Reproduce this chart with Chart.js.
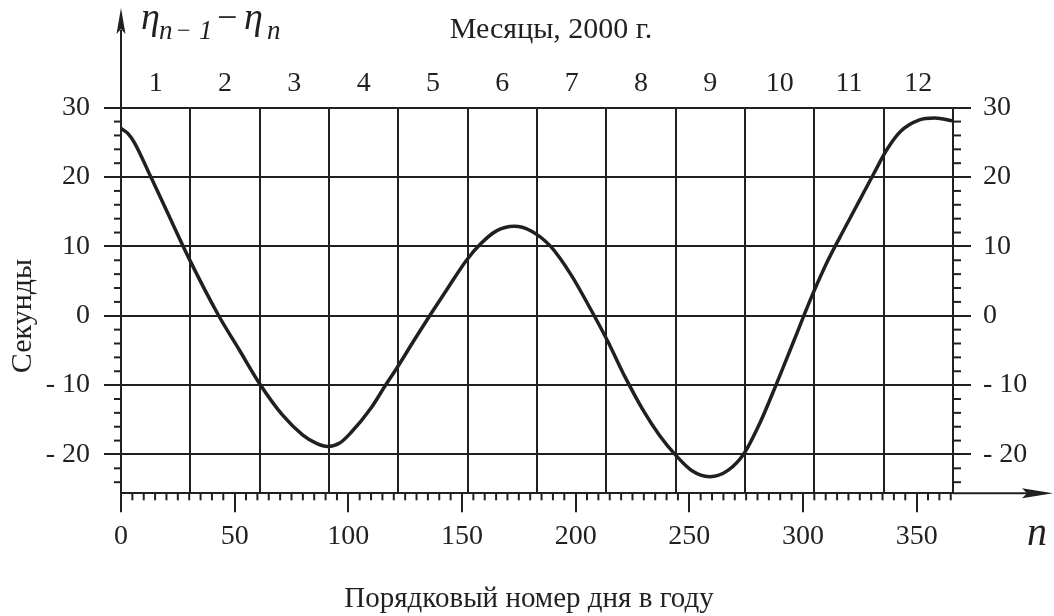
<!DOCTYPE html>
<html><head><meta charset="utf-8">
<script src="https://cdn.jsdelivr.net/npm/chart.js@4/dist/chart.umd.min.js"></script>
<style>html,body{margin:0;padding:0;background:#fff}#wrap{width:1054px;height:616px;position:relative}</style>
</head><body><div id="wrap"><canvas id="c" width="1054" height="616"></canvas></div>
<script>
// ---- data ----
const days = [0, 3, 6, 13, 19, 30, 43, 52, 61, 71, 80, 86, 91, 96, 101, 110, 116, 122, 129, 136, 143, 152, 158, 165, 173, 180, 189, 198, 206, 214, 222, 230, 237, 244, 251, 259, 267, 274, 281, 288, 296, 304, 311, 318, 325, 331, 337, 343, 351, 358, 366];
const secondsValues = [27.0, 26.3, 24.9, 20.1, 15.9, 8.2, 0.0, -4.9, -9.8, -14.3, -17.2, -18.4, -18.85, -18.4, -16.9, -13.3, -10.2, -7.2, -3.5, 0.1, 3.6, 8.0, 10.3, 12.2, 12.9, 12.3, 10.0, 5.9, 1.3, -3.6, -9.0, -13.8, -17.3, -20.1, -22.3, -23.2, -22.3, -19.9, -15.5, -10.1, -3.6, 2.9, 8.0, 12.4, 16.7, 20.4, 24.0, 26.6, 28.2, 28.5, 28.1];
const months = ['1','2','3','4','5','6','7','8','9','10','11','12'];
const xTickValues = [0, 50, 100, 150, 200, 250, 300, 350];
const yTickValues = [-20, -10, 0, 10, 20, 30];
const xRange = [0, 366];
const yRange = [-25.6, 30];
const titleText = 'Месяцы, 2000 г.';
const yTitleText = 'Секунды';
const xTitleText = 'Порядковый номер дня в году';

const INK = '#231f20';
const SERIF = "'Liberation Serif', 'Times New Roman', serif";
Chart.defaults.font.family = SERIF;
Chart.defaults.color = INK;

const fmtY = v => v < 0 ? '- ' + Math.abs(v) : String(v);

function line(ctx, x1, y1, x2, y2) { ctx.beginPath(); ctx.moveTo(x1, y1); ctx.lineTo(x2, y2); ctx.stroke(); }

const decor = {
  id: 'decor',
  afterDraw(chart) {
    const ctx = chart.ctx;
    const { x, y } = chart.scales;
    const ca = chart.chartArea;
    ctx.save();
    ctx.strokeStyle = INK; ctx.fillStyle = INK; ctx.lineWidth = 2;
    // minor ticks on y axes
    for (let v = Math.ceil(yRange[0] / 2) * 2; v <= yRange[1]; v += 2) {
      if (v % 10 === 0) continue;
      const py = y.getPixelForValue(v);
      line(ctx, ca.left - 7, py, ca.left, py);
      line(ctx, ca.right, py, ca.right + 8, py);
    }
    // minor ticks on x axis
    for (let d = 5; d <= xRange[1]; d += 5) {
      if (d % 50 === 0) continue;
      const px = x.getPixelForValue(d);
      line(ctx, px, ca.bottom, px, ca.bottom + 7);
    }
    // y axis extension + arrow
    line(ctx, ca.left, ca.top, ca.left, 30);
    ctx.beginPath();
    ctx.moveTo(ca.left, 8); ctx.lineTo(ca.left + 4.5, 34); ctx.lineTo(ca.left, 29); ctx.lineTo(ca.left - 4.5, 34); ctx.closePath(); ctx.fill();
    // x axis extension + arrow
    line(ctx, ca.right, ca.bottom, 1028, ca.bottom);
    ctx.beginPath();
    ctx.moveTo(1053, ca.bottom); ctx.lineTo(1022, ca.bottom - 5); ctx.lineTo(1027, ca.bottom); ctx.lineTo(1022, ca.bottom + 5); ctx.closePath(); ctx.fill();

    // texts
    ctx.textBaseline = 'alphabetic';
    ctx.textAlign = 'center';
    ctx.font = '30px ' + SERIF;
    ctx.fillText(titleText, 551, 38);
    ctx.font = '29px ' + SERIF;
    ctx.fillText(xTitleText, 529, 607);
    ctx.save();
    ctx.translate(31, 316); ctx.rotate(-Math.PI / 2);
    ctx.font = '30px ' + SERIF;
    ctx.fillText(yTitleText, 0, 0);
    ctx.restore();
    // n label
    ctx.font = 'italic 40px ' + SERIF;
    ctx.fillText('n', 1037, 545);
    // eta label
    ctx.textAlign = 'left';
    ctx.font = 'italic 38px ' + SERIF;
    ctx.fillText('η', 141, 29);
    ctx.fillText('η', 244, 29);
    ctx.font = '36px ' + SERIF;
    ctx.fillText('−', 217, 29);
    ctx.font = 'italic 27px ' + SERIF;
    ctx.fillText('n', 159, 39);
    ctx.fillText('1', 199, 39);
    ctx.fillText('n', 267, 39);
    ctx.font = '24px ' + SERIF;
    ctx.fillText('−', 177, 38);
    ctx.restore();
  }
};

const tickFont = { family: SERIF, size: 28, lineHeight: 1.2 };

new Chart(document.getElementById('c'), {
  type: 'line',
  data: {
    datasets: [{
      data: days.map((d, i) => ({ x: d, y: secondsValues[i] })),
      borderColor: INK,
      borderWidth: 3.5,
      pointRadius: 0,
      cubicInterpolationMode: 'monotone',
      fill: false,
      xAxisID: 'x',
      yAxisID: 'y'
    }]
  },
  options: {
    responsive: false,
    devicePixelRatio: 1,
    animation: false,
    layout: { padding: 0 },
    plugins: { legend: { display: false }, tooltip: { enabled: false }, title: { display: false } },
    scales: {
      x: {
        type: 'linear', position: 'bottom', min: xRange[0], max: xRange[1],
        afterFit: s => { s.height = 122.7; },
        afterBuildTicks: s => { s.ticks = xTickValues.map(v => ({ value: v })); },
        grid: { drawOnChartArea: false, drawTicks: true, tickLength: 19, tickWidth: 2, tickColor: INK, color: INK, lineWidth: 2 },
        border: { display: true, color: INK, width: 2 },
        ticks: { font: tickFont, color: INK, padding: 8, maxRotation: 0, autoSkip: false }
      },
      xTop: {
        type: 'category', position: 'top', labels: months, offset: true,
        afterFit: s => { s.height = 107.7; },
        grid: { offset: true, drawOnChartArea: true, drawTicks: false, color: INK, lineWidth: 2 },
        border: { display: false },
        ticks: { font: tickFont, color: INK, padding: 7, maxRotation: 0, autoSkip: false }
      },
      y: {
        type: 'linear', position: 'left', min: yRange[0], max: yRange[1],
        afterFit: s => { s.width = 121; },
        afterBuildTicks: s => { s.ticks = yTickValues.map(v => ({ value: v })); },
        grid: { drawOnChartArea: true, drawTicks: true, tickLength: 17, color: INK, lineWidth: 2, tickColor: INK, tickWidth: 2 },
        border: { display: true, color: INK, width: 2 },
        ticks: { font: tickFont, color: INK, padding: 14, callback: v => fmtY(v) }
      },
      y2: {
        type: 'linear', position: 'right', min: yRange[0], max: yRange[1],
        afterFit: s => { s.width = 101; },
        afterBuildTicks: s => { s.ticks = yTickValues.map(v => ({ value: v })); },
        grid: { drawOnChartArea: false, drawTicks: true, tickLength: 18, color: INK, lineWidth: 2, tickColor: INK, tickWidth: 2 },
        border: { display: true, color: INK, width: 2 },
        ticks: { font: tickFont, color: INK, padding: 12, callback: v => fmtY(v) }
      }
    }
  },
  plugins: [decor]
});
</script>
</body></html>
